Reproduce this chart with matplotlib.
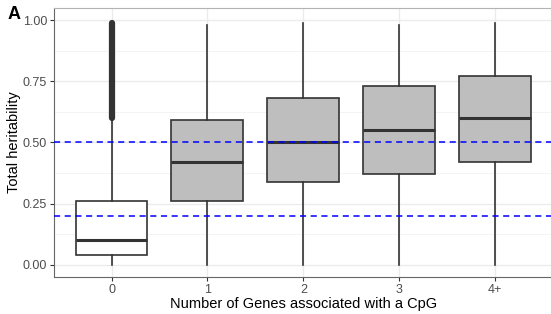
import matplotlib
matplotlib.use("Agg")
import matplotlib.pyplot as plt

plt.rcParams["font.family"] = ["Liberation Sans", "DejaVu Sans"]

categories = ["0", "1", "2", "3", "4+"]
whisker_low = [0.0, 0.0, 0.0, 0.0, 0.0]
q1 = [0.04, 0.26, 0.34, 0.37, 0.42]
median = [0.10, 0.42, 0.50, 0.55, 0.60]
q3 = [0.26, 0.59, 0.68, 0.73, 0.77]
whisker_high = [0.60, 0.98, 0.99, 0.98, 0.99]
box_fill = ["white", "#bebebe", "#bebebe", "#bebebe", "#bebebe"]
# group "0" has a dense run of outliers from the upper whisker to ~1
outlier_low, outlier_high = 0.60, 0.99
thresholds = [0.5, 0.2]

fig = plt.figure(figsize=(5.51, 3.14), dpi=100)
ax = fig.add_axes([0.098, 0.118, 0.905, 0.857])

stats = []
for i, c in enumerate(categories):
    stats.append(dict(label=c, whislo=whisker_low[i], q1=q1[i], med=median[i],
                      q3=q3[i], whishi=whisker_high[i], fliers=[]))

pos = list(range(len(categories)))
bp = ax.bxp(stats, positions=pos, widths=0.75, patch_artist=True,
            showcaps=False, showfliers=False,
            boxprops=dict(edgecolor="#333333", linewidth=1.2),
            whiskerprops=dict(color="#333333", linewidth=1.2),
            medianprops=dict(color="#333333", linewidth=2.2))
for patch, col in zip(bp["boxes"], box_fill):
    patch.set_facecolor(col)

ax.vlines(pos[0], outlier_low, outlier_high, color="#333333", linewidth=4.5,
          capstyle="round", zorder=3)

for t in thresholds:
    ax.axhline(t, color="#0000ff", linestyle=(0, (4, 3)), linewidth=1.1, zorder=4)

ax.set_xlim(-0.6, len(categories) - 0.4)
ax.set_ylim(-0.05, 1.05)
ax.set_xticks(pos, categories)
ax.set_yticks([0, 0.25, 0.5, 0.75, 1.0], ["0.00", "0.25", "0.50", "0.75", "1.00"])
ax.set_yticks([0.125, 0.375, 0.625, 0.875], minor=True)
ax.grid(which="major", color="#ebebeb", linewidth=1.0, zorder=0)
ax.grid(which="minor", axis="y", color="#f3f3f3", linewidth=0.6, zorder=0)
ax.set_axisbelow(True)
ax.tick_params(axis="both", which="major", colors="#333333", labelcolor="#4d4d4d",
               labelsize=9, length=3, pad=2)
ax.tick_params(which="minor", length=0)
for s in ["left", "bottom"]:
    ax.spines[s].set_color("#666666")
ax.spines["top"].set_color("#b3b3b3")
ax.spines["right"].set_visible(False)

ax.set_xlabel("Number of Genes associated with a CpG", fontsize=10.5, labelpad=1)
ax.set_ylabel("Total heritability", fontsize=10.5, labelpad=1)
fig.text(0.014, 0.94, "A", fontsize=13, fontweight="bold")

fig.savefig("out.png", dpi=100)
